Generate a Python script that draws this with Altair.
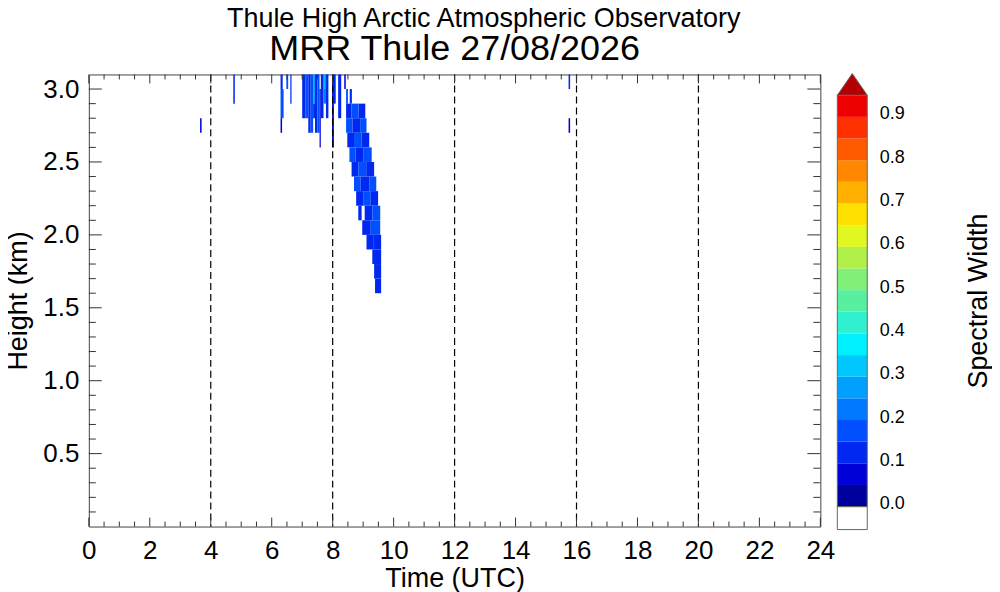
import altair as alt
import pandas as pd

FONT = "Liberation Sans"

# ---------------- data ----------------
# each entry: one rectangle of radar returns (time start/end in h UTC, height bottom/top in km, spectral width)
seg_t0 = [3.65, 4.74, 15.74, 15.74,
          6.29, 6.29, 6.29, 6.48, 6.61,
          7.00, 7.10, 7.20, 7.28, 7.36, 7.36, 7.42, 7.50, 7.57, 7.61, 7.70, 7.72, 7.78,
          7.98, 8.04, 8.18, 8.38,
          8.44, 8.56,
          8.44, 8.62, 8.85,
          8.44, 8.65, 8.90,
          8.48, 8.70, 8.95,
          8.55, 8.75, 9.00,
          8.62, 8.85, 9.10,
          8.70, 8.92, 9.20,
          8.77, 9.00, 9.25,
          8.84, 9.05, 9.30,
          8.97, 9.25,
          9.11, 9.35,
          9.30, 9.36, 9.39]
seg_t1 = [3.70, 4.79, 15.79, 15.79,
          6.36, 6.39, 6.34, 6.54, 6.65,
          7.10, 7.20, 7.28, 7.36, 7.42, 7.42, 7.50, 7.57, 7.61, 7.70, 7.78, 7.76, 7.86,
          8.04, 8.10, 8.28, 8.43,
          8.50, 8.63,
          8.62, 8.85, 9.07,
          8.65, 8.90, 9.11,
          8.70, 8.95, 9.20,
          8.75, 9.00, 9.28,
          8.85, 9.10, 9.36,
          8.92, 9.20, 9.43,
          9.00, 9.25, 9.49,
          8.95, 9.30, 9.56,
          9.25, 9.56,
          9.35, 9.59,
          9.59, 9.59, 9.59]
seg_h0 = [2.7, 2.9, 3.0, 2.7,
          3.0, 2.8, 2.7, 3.0, 2.9,
          2.8, 2.8, 2.7, 2.7, 2.9, 2.8, 2.7, 2.7, 2.6, 2.8, 2.9, 3.0, 2.8,
          2.6, 2.9, 2.8, 3.0,
          2.9, 2.9,
          2.8, 2.8, 2.8,
          2.7, 2.7, 2.7,
          2.6, 2.6, 2.6,
          2.5, 2.5, 2.5,
          2.4, 2.4, 2.4,
          2.3, 2.3, 2.3,
          2.2, 2.2, 2.2,
          2.1, 2.1, 2.1,
          2.0, 2.0,
          1.9, 1.9,
          1.8, 1.7, 1.6]
seg_h1 = [2.8, 3.1, 3.1, 2.8,
          3.1, 3.0, 2.8, 3.1, 3.1,
          3.1, 3.1, 3.1, 3.1, 3.1, 2.9, 3.1, 3.1, 3.0, 3.1, 3.1, 3.1, 3.1,
          3.1, 3.1, 3.1, 3.1,
          3.0, 3.0,
          2.9, 2.9, 2.9,
          2.8, 2.8, 2.8,
          2.7, 2.7, 2.7,
          2.6, 2.6, 2.6,
          2.5, 2.5, 2.5,
          2.4, 2.4, 2.4,
          2.3, 2.3, 2.3,
          2.2, 2.2, 2.2,
          2.1, 2.1,
          2.0, 2.0,
          1.9, 1.8, 1.7]
seg_v = [0.07, 0.12, 0.12, 0.07,
         0.12, 0.17, 0.07, 0.17, 0.12,
         0.12, 0.17, 0.12, 0.17, 0.27, 0.12, 0.12, 0.17, 0.07, 0.12, 0.22, 0.32, 0.12,
         0.07, 0.12, 0.12, 0.07,
         0.17, 0.12,
         0.12, 0.17, 0.12,
         0.17, 0.12, 0.17,
         0.12, 0.17, 0.12,
         0.17, 0.12, 0.17,
         0.12, 0.17, 0.12,
         0.17, 0.12, 0.17,
         0.12, 0.17, 0.12,
         0.12, 0.12, 0.17,
         0.12, 0.17,
         0.12, 0.12,
         0.12, 0.12, 0.12]

dash_times = [4, 8, 12, 16, 20]

x_major = [0, 2, 4, 6, 8, 10, 12, 14, 16, 18, 20, 22, 24]
y_major = [0.5, 1.0, 1.5, 2.0, 2.5, 3.0]
x_minor = [h / 2 for h in range(1, 48) if h % 4 != 0]
y_minor = [k / 10 for k in range(1, 31) if k % 5 != 0]

# colour bar: 19 levels of 0.05 from 0.0 to 0.95, plus overflow
cb_lo = [0.00, 0.05, 0.10, 0.15, 0.20, 0.25, 0.30, 0.35, 0.40, 0.45,
         0.50, 0.55, 0.60, 0.65, 0.70, 0.75, 0.80, 0.85, 0.90]
cb_hi = [0.05, 0.10, 0.15, 0.20, 0.25, 0.30, 0.35, 0.40, 0.45, 0.50,
         0.55, 0.60, 0.65, 0.70, 0.75, 0.80, 0.85, 0.90, 0.95]
cb_colors = ["#00009c", "#0000d8", "#0028f0", "#0050ff", "#0078ff", "#00a0ff",
             "#00c8ff", "#00f0ff", "#30f0d0", "#58f0a0", "#80f078", "#b0f048",
             "#e0f820", "#ffe000", "#ffb000", "#ff8800", "#ff5a00", "#ff3000",
             "#ee0000"]
over_color = "#b40000"
cb_labels = [0.0, 0.1, 0.2, 0.3, 0.4, 0.5, 0.6, 0.7, 0.8, 0.9]

title_top = "Thule High Arctic Atmospheric Observatory"
title_main = "MRR Thule 27/08/2026"

# ---------------- chart ----------------
W, H = 733, 453
CBW = 30

seg_df = pd.DataFrame(dict(t0=seg_t0, t1=seg_t1, h0=seg_h0, h1=seg_h1, v=seg_v))
color_scale = alt.Scale(type="threshold", domain=cb_hi, range=cb_colors + [over_color])

xs = alt.Scale(domain=[0, 24], nice=False, zero=False)
ys = alt.Scale(domain=[0, 3.1], nice=False, zero=False)

x_axis = alt.Axis(
    values=x_major, title="Time (UTC)", grid=False, ticks=False, domain=False,
    labelFontSize=26, labelFont=FONT, labelColor="black", labelPadding=11,
    titleFontSize=27, titleFont=FONT, titleFontWeight="normal", titleColor="black",
    titlePadding=2, labelFlush=False)
y_axis = alt.Axis(
    values=y_major, format=".1f", title="Height (km)", grid=False, ticks=False,
    domain=False, labelFontSize=26, labelFont=FONT, labelColor="black",
    labelPadding=10, titleFontSize=27, titleFont=FONT, titleFontWeight="normal",
    titleColor="black", titlePadding=10, labelFlush=False)

rects = alt.Chart(seg_df).mark_rect(strokeWidth=0).encode(
    x=alt.X("t0:Q", scale=xs, axis=x_axis),
    x2="t1:Q",
    y=alt.Y("h0:Q", scale=ys, axis=y_axis),
    y2="h1:Q",
    color=alt.Color("v:Q", scale=color_scale, legend=None),
)

dashes = alt.Chart(pd.DataFrame({"t": dash_times})).mark_rule(
    color="black", strokeWidth=1.2, strokeDash=[7, 4]
).encode(x=alt.X("t:Q", scale=xs, axis=x_axis))

tick_color = "#333333"
xmaj_df = pd.DataFrame({"t": x_major})
xmin_df = pd.DataFrame({"t": x_minor})
ymaj_df = pd.DataFrame({"h": y_major})
ymin_df = pd.DataFrame({"h": y_minor})


def xtick(df, y0, y1):
    return alt.Chart(df).mark_rule(color=tick_color, strokeWidth=1).encode(
        x=alt.X("t:Q", scale=xs, axis=x_axis), y=alt.value(y0), y2=alt.value(y1))


def ytick(df, x0, x1):
    return alt.Chart(df).mark_rule(color=tick_color, strokeWidth=1).encode(
        y=alt.Y("h:Q", scale=ys, axis=y_axis), x=alt.value(x0), x2=alt.value(x1))


ticks = [
    xtick(xmaj_df, H, H - 9), xtick(xmin_df, H, H - 5),
    xtick(xmaj_df, 0, 9), xtick(xmin_df, 0, 5),
    ytick(ymaj_df, 0, 13), ytick(ymin_df, 0, 7),
    ytick(ymaj_df, W, W - 13), ytick(ymin_df, W, W - 7),
]

# second title line, centred over the middle of the time axis
main_title = alt.Chart(pd.DataFrame({"t": [12], "s": [title_main]})).mark_text(
    fontSize=36, font=FONT, color="black", align="center", baseline="alphabetic"
).encode(x=alt.X("t:Q", scale=xs, axis=x_axis), y=alt.value(-14), text="s:N")

main = alt.layer(rects, dashes, *ticks, main_title).properties(
    width=W, height=H,
    view=alt.ViewBackground(stroke="#444444", strokeWidth=1),
)

# colour bar
cby = alt.Scale(domain=[-0.046, 0.998], nice=False, zero=False)
cbx = alt.Scale(domain=[0, 1], nice=False, zero=False)
cb_axis = alt.Axis(
    values=cb_labels, format=".1f", orient="right", ticks=False, domain=False,
    grid=False, labelFontSize=18, labelFont=FONT, labelColor="black",
    labelPadding=12, labelOffset=-3, labelFlush=False,
    title="Spectral Width", titleFontSize=27, titleFont=FONT,
    titleFontWeight="normal", titleColor="black", titleAngle=270,
    titlePadding=88)
cb_df = pd.DataFrame(dict(lo=cb_lo, hi=cb_hi, c=cb_colors, x0=[0] * len(cb_lo), x1=[1] * len(cb_lo)))

bands = alt.Chart(cb_df).mark_rect(strokeWidth=0).encode(
    x=alt.X("x0:Q", scale=cbx, axis=None), x2="x1:Q",
    y=alt.Y("lo:Q", scale=cby, axis=cb_axis),
    y2="hi:Q",
    color=alt.Color("c:N", scale=None, legend=None),
)

outline_df = pd.DataFrame(dict(lo=[-0.053, 0.0], hi=[0.0, 0.95], x0=[0, 0], x1=[1, 1],
                               f=["white", "transparent"]))
outline = alt.Chart(outline_df).mark_rect(stroke="#666666", strokeWidth=1).encode(
    x=alt.X("x0:Q", scale=cbx, axis=None), x2="x1:Q",
    y=alt.Y("lo:Q", scale=cby, axis=cb_axis), y2="hi:Q",
    fill=alt.Fill("f:N", scale=None, legend=None),
)

tri_df = pd.DataFrame(dict(x=[0, 0.5, 1], y=[0.95, 1.0, 0.95], y2=[0.95, 0.95, 0.95]))
tri = alt.Chart(tri_df).mark_area(color=over_color, stroke="#666666", strokeWidth=1).encode(
    x=alt.X("x:Q", scale=cbx, axis=None),
    y=alt.Y("y:Q", scale=cby, axis=cb_axis), y2="y2:Q",
)

cbar = alt.layer(bands, outline, tri).properties(
    width=CBW, height=H,
    view=alt.ViewBackground(strokeWidth=0, stroke="transparent"),
)

chart = alt.hconcat(main, cbar, spacing=0).properties(
    padding={"left": -4, "top": -4, "right": 0, "bottom": 0},
    title=alt.TitleParams(title_top, fontSize=27,
                          font=FONT, fontWeight="normal", color="black",
                          anchor="middle", dx=-14, offset=-2),
).configure_view(strokeWidth=0).configure(background="white")

chart.save("out.html", embed_options={"renderer": "svg", "actions": False})
